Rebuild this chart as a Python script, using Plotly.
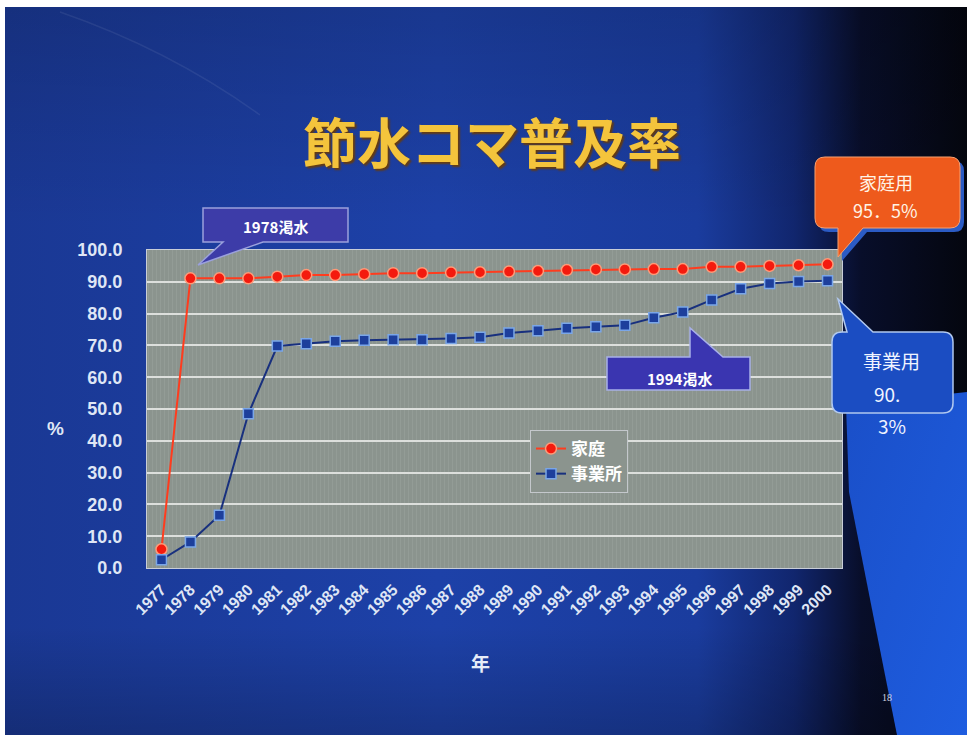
import base64
import plotly.graph_objects as go

# ---------------- data ----------------
years = [str(y) for y in range(1977, 2001)]
household = [5.9, 91.1, 91.1, 91.1, 91.6, 92.1, 92.1, 92.4, 92.7, 92.7, 92.9, 93.0,
             93.2, 93.4, 93.7, 93.9, 93.9, 94.0, 94.0, 94.7, 94.7, 95.0, 95.2, 95.5]
business = [2.6, 8.2, 16.6, 48.5, 69.8, 70.5, 71.3, 71.6, 71.8, 71.8, 72.2, 72.6,
            73.9, 74.6, 75.4, 75.9, 76.3, 78.7, 80.5, 84.3, 87.8, 89.5, 90.1, 90.3]
series_names = ["家庭", "事業所"]
title_text = "節水コマ普及率"
x_title = "年"
y_title = "%"
yticks = [0, 10, 20, 30, 40, 50, 60, 70, 80, 90, 100]

# ---------------- layout geometry (pixels) ----------------
W, H = 967, 735
L, R, T, B = 147, 842, 250, 568
PW, PH = R - L, B - T


def px(x):
    return (x - L) / PW


def py(y):
    return (B - y) / PH


def path(cmds):
    out = []
    for c in cmds:
        op = c[0]
        if op == "Z":
            out.append("Z")
        else:
            pts = c[1:]
            coords = " ".join(f"{px(pts[i]):.5f},{py(pts[i+1]):.5f}" for i in range(0, len(pts), 2))
            out.append(f"{op} {coords}")
    return " ".join(out)


# ---------------- background image (svg) ----------------
svg = f'''<svg xmlns="http://www.w3.org/2000/svg" width="{W}" height="{H}" viewBox="0 0 {W} {H}">
<defs>
<linearGradient id="bg" x1="0" y1="0" x2="1" y2="0">
<stop offset="0" stop-color="#1a3894"/>
<stop offset="0.45" stop-color="#1d41a8"/>
<stop offset="0.72" stop-color="#1a3c9e"/>
<stop offset="0.82" stop-color="#11266e"/>
<stop offset="0.89" stop-color="#080e2a"/>
<stop offset="1" stop-color="#04060f"/>
</linearGradient>
<linearGradient id="vt" x1="0" y1="0" x2="0" y2="1">
<stop offset="0" stop-color="#000" stop-opacity="0.15"/>
<stop offset="0.3" stop-color="#000" stop-opacity="0"/>
<stop offset="0.85" stop-color="#000" stop-opacity="0"/>
<stop offset="1" stop-color="#000" stop-opacity="0.2"/>
</linearGradient>
<linearGradient id="br" x1="0" y1="0" x2="1" y2="1">
<stop offset="0" stop-color="#1a4fc8"/>
<stop offset="1" stop-color="#1e5de0"/>
</linearGradient>
<pattern id="tex" width="4" height="4" patternUnits="userSpaceOnUse">
<rect x="0" y="0" width="1" height="4" fill="#ffffff" opacity="0.07"/>
</pattern>
<mask id="m">
<rect width="{W}" height="{H}" fill="#fff"/>
<rect x="{L}" y="{T}" width="{PW}" height="{PH}" fill="#000"/>
</mask>
</defs>
<g mask="url(#m)">
<rect width="{W}" height="{H}" fill="#ffffff"/>
<rect x="5" y="7" width="{W-5}" height="{H-7}" fill="url(#bg)"/>
<rect x="5" y="7" width="{W-5}" height="{H-7}" fill="url(#vt)"/>
<path d="M 846 405 L 967 392 L 967 735 L 897 735 Q 872 610 849 492 Z" fill="url(#br)"/>
<path d="M 60 12 Q 170 50 260 115" stroke="#ffffff" stroke-opacity="0.07" stroke-width="1.5" fill="none"/>
</g>
<rect x="{L}" y="{T}" width="{PW}" height="{PH}" fill="url(#tex)"/>
</svg>'''
src = "data:image/svg+xml;base64," + base64.b64encode(svg.encode("utf-8")).decode("ascii")

fig = go.Figure()

fig.add_trace(go.Scatter(
    x=years, y=household, name=series_names[0], mode="lines+markers",
    line=dict(color="#ff3c1e", width=2),
    marker=dict(symbol="circle", size=11, color="#f41a0e",
                line=dict(color="#ff9a78", width=1.5)),
    legendgroup="a",
))
fig.add_trace(go.Scatter(
    x=years, y=business, name=series_names[1], mode="lines+markers",
    line=dict(color="#18307e", width=2),
    marker=dict(symbol="square", size=10, color="#1d3f9c",
                line=dict(color="#7aa6e8", width=1.5)),
    legendgroup="b",
))

tick_font = dict(family="Liberation Sans, Arial", size=18, color="#dfe6f5", weight="bold")

shapes = []
# 1978 callout
shapes.append(dict(type="path", xref="paper", yref="paper", layer="above",
                   path=path([("M", 203, 208), ("L", 348, 208), ("L", 348, 242), ("L", 263, 242),
                              ("L", 198, 265), ("L", 223, 242), ("L", 203, 242), ("Z",)]),
                   fillcolor="#3d3ca8", line=dict(color="#9aa0dc", width=1.5)))
# 1994 callout
shapes.append(dict(type="path", xref="paper", yref="paper", layer="above",
                   path=path([("M", 607, 357), ("L", 690, 357), ("L", 690, 328), ("L", 723, 357),
                              ("L", 750, 357), ("L", 750, 390), ("L", 607, 390), ("Z",)]),
                   fillcolor="#3a35b0", line=dict(color="#a8b0e8", width=1.5)))


def orange_path(dx=0, dy=0):
    return path([("M", 825 + dx, 157 + dy), ("L", 950 + dx, 157 + dy),
                 ("Q", 960 + dx, 157 + dy, 960 + dx, 167 + dy), ("L", 960 + dx, 218 + dy),
                 ("Q", 960 + dx, 228 + dy, 950 + dx, 228 + dy), ("L", 863 + dx, 228 + dy),
                 ("L", 838 + dx, 257 + dy), ("L", 838 + dx, 228 + dy), ("L", 825 + dx, 228 + dy),
                 ("Q", 815 + dx, 228 + dy, 815 + dx, 218 + dy), ("L", 815 + dx, 167 + dy),
                 ("Q", 815 + dx, 157 + dy, 825 + dx, 157 + dy), ("Z",)])


shapes.append(dict(type="path", xref="paper", yref="paper", layer="above",
                   path=orange_path(4, 4), fillcolor="#2b5bc4", line=dict(width=0)))
shapes.append(dict(type="path", xref="paper", yref="paper", layer="above",
                   path=orange_path(), fillcolor="#ee5a1c", line=dict(color="#f7a070", width=1)))
# blue callout
shapes.append(dict(type="path", xref="paper", yref="paper", layer="above",
                   path=path([("M", 842, 332), ("L", 847, 332), ("L", 838, 299), ("L", 873, 332),
                              ("L", 943, 332), ("Q", 953, 332, 953, 342), ("L", 953, 403),
                              ("Q", 953, 413, 943, 413), ("L", 842, 413), ("Q", 832, 413, 832, 403),
                              ("L", 832, 342), ("Q", 832, 332, 842, 332), ("Z",)]),
                   fillcolor="#1b4dc2", line=dict(color="#b0c8f0", width=1.5)))

cjk = "Noto Sans CJK JP"


def ann(text, x, y, size, color="#ffffff", weight="bold", family=cjk, **kw):
    d = dict(text=text, x=px(x), y=py(y), xref="paper", yref="paper", showarrow=False,
             xanchor="center", yanchor="middle",
             font=dict(family=family, size=size, color=color, weight=weight))
    d.update(kw)
    return d


annotations = [
    ann(title_text, 492, 140, 54, color="#f4c43c", weight="bold"),
    ann(y_title, 56, 428, 19, color="#dfe6f5", family="Liberation Sans, Arial"),
    ann(x_title, 480, 662, 19, color="#e6ecf8"),
    ann("1978渇水", 275, 226, 15),
    ann("1994渇水", 679, 378, 15),
    ann("家庭用", 886, 182, 18, color="#fff4e6", weight="normal"),
    ann("95．5%", 886, 210, 18, color="#fff4e6", weight="normal"),
    ann("事業用", 891, 360, 19, color="#f0f4ff", weight="normal"),
    ann("90.", 887, 393, 19, color="#f0f4ff", weight="normal"),
    ann("3%", 892, 425, 19, color="#f0f4ff", weight="normal"),
    ann("18", 887, 697, 10, color="#d0d4e0", weight="normal", family="Liberation Serif"),
]
annotations[0]["font"]["shadow"] = "2px 2px 2px rgba(110,60,0,0.9)"

fig.update_layout(
    width=W, height=H,
    margin=dict(l=L, r=W - R, t=T, b=H - B, pad=0),
    paper_bgcolor="#1b3c9e",
    plot_bgcolor="#8b948e",
    showlegend=True,
    legend=dict(x=px(530), y=py(430), xanchor="left", yanchor="top",
                bgcolor="#8b948e", bordercolor="#c4c8cc", borderwidth=1,
                font=dict(family=cjk, size=17, color="#ffffff", weight="bold"),
                tracegroupgap=5, traceorder="normal"),
    xaxis=dict(type="category", categoryorder="array", categoryarray=years,
               range=[-0.5, len(years) - 0.5], tickangle=-45, showgrid=False, zeroline=False,
               showline=True, mirror=True, linecolor="#c8cdd8", linewidth=1,
               ticks="outside", ticklen=5, tickcolor="rgba(0,0,0,0)",
               tickfont=dict(family="Liberation Sans, Arial", size=16, color="#dfe6f5", weight="bold")),
    yaxis=dict(range=[0, 100], tickvals=yticks, tickformat=".1f", showgrid=True,
               gridcolor="#dcdfdc", gridwidth=1.5, zeroline=False,
               showline=True, mirror=True, linecolor="#c8cdd8", linewidth=1,
               ticks="outside", ticklen=20, tickcolor="rgba(0,0,0,0)", tickfont=tick_font),
    images=[dict(source=src, xref="paper", yref="paper", x=px(0), y=py(0),
                 sizex=W / PW, sizey=H / PH, xanchor="left", yanchor="top",
                 sizing="stretch", layer="below")],
    shapes=shapes,
    annotations=annotations,
)

fig.write_html("out.html")
